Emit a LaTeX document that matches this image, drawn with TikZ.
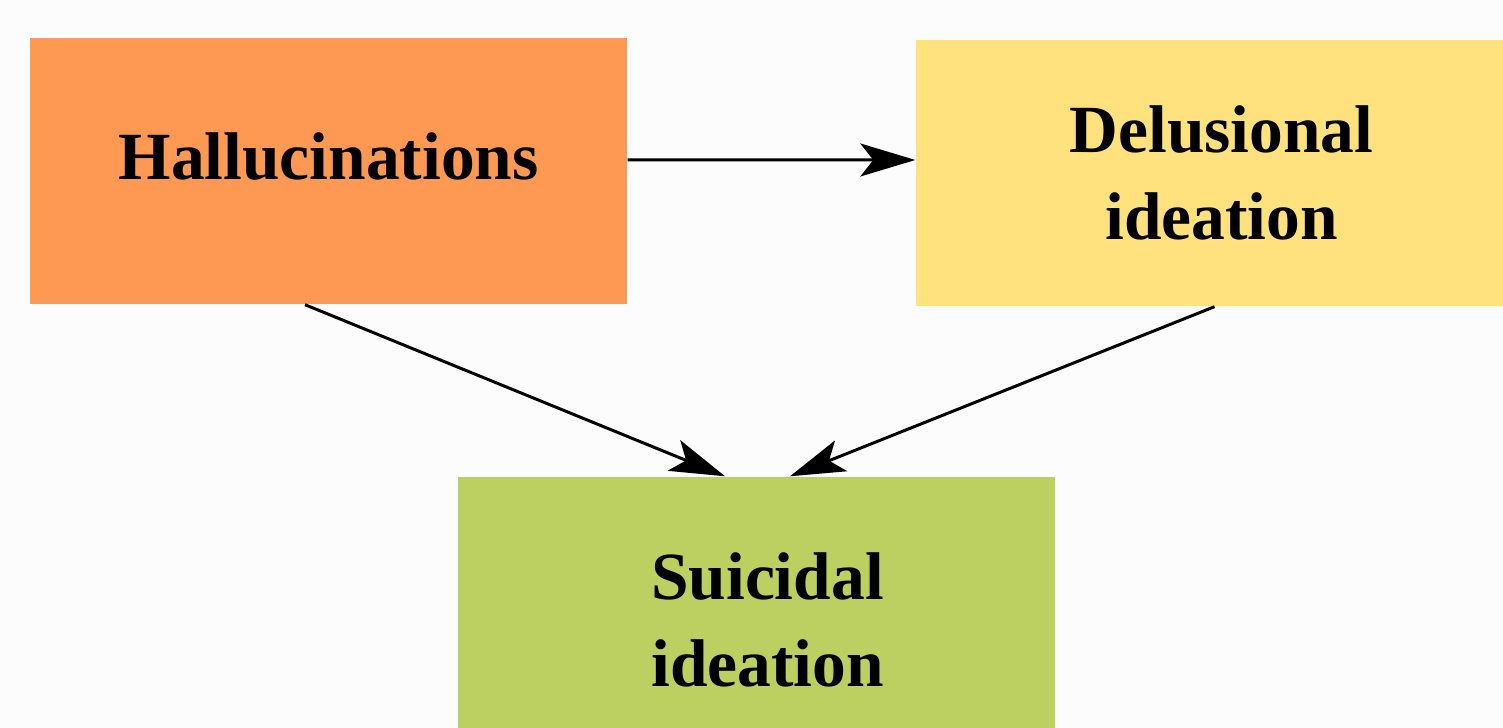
\documentclass[tikz,border=0pt]{standalone}
\usepackage{fontspec}
\setmainfont{Liberation Serif}
\usepackage{tikz}
\usetikzlibrary{arrows.meta}
\definecolor{halorange}{RGB}{254,153,84}
\definecolor{delyellow}{RGB}{255,226,125}
\definecolor{suigreen}{RGB}{187,208,96}
\definecolor{paper}{RGB}{252,252,252}
\tikzset{
  box/.style={rectangle, minimum width=5.97cm, minimum height=2.66cm, inner sep=0pt},
  txt/.style={inner sep=0pt, align=center, font=\fontsize{19.2}{24.6}\selectfont\bfseries},
  arr/.style={line width=0.85pt, -{Stealth[length=5.5mm, width=3.3mm, inset=1.3mm]}}
}
\begin{document}
\begin{tikzpicture}
        \fill[paper] (0, 0) rectangle (15.03, 7.28);
        \useasboundingbox (0, 0) rectangle (15.03, 7.28);
        \begin{scope}
          \clip (0, 0) rectangle (15.03, 7.28);
          \node[box, txt, fill=halorange, text height=0.44cm, text depth=0.26cm] (hal) at (3.285, 5.57) {Hallucinations};
          \node[box, fill=delyellow] (del) at (12.145, 5.55) {};
          \node[box, fill=suigreen] (sui) at (7.565, 1.18) {};
        \end{scope}
        \node[txt] (deltxt) at ([xshift=0.07cm]del.center) {Delusional\\ideation};
        \node[txt] (suitxt) at ([xshift=0.11cm, yshift=-0.1cm]sui.center) {Suicidal\\ideation};
        \draw[arr] ([yshift=1.1mm]hal.east) -- ([yshift=1.3mm]del.west);
        \draw[arr] ([xshift=-2.35mm]hal.south) -- ([xshift=-3.15mm]sui.north);
        \draw[arr] (del.south) -- ([xshift=3.35mm]sui.north);
\end{tikzpicture}
\end{document}
